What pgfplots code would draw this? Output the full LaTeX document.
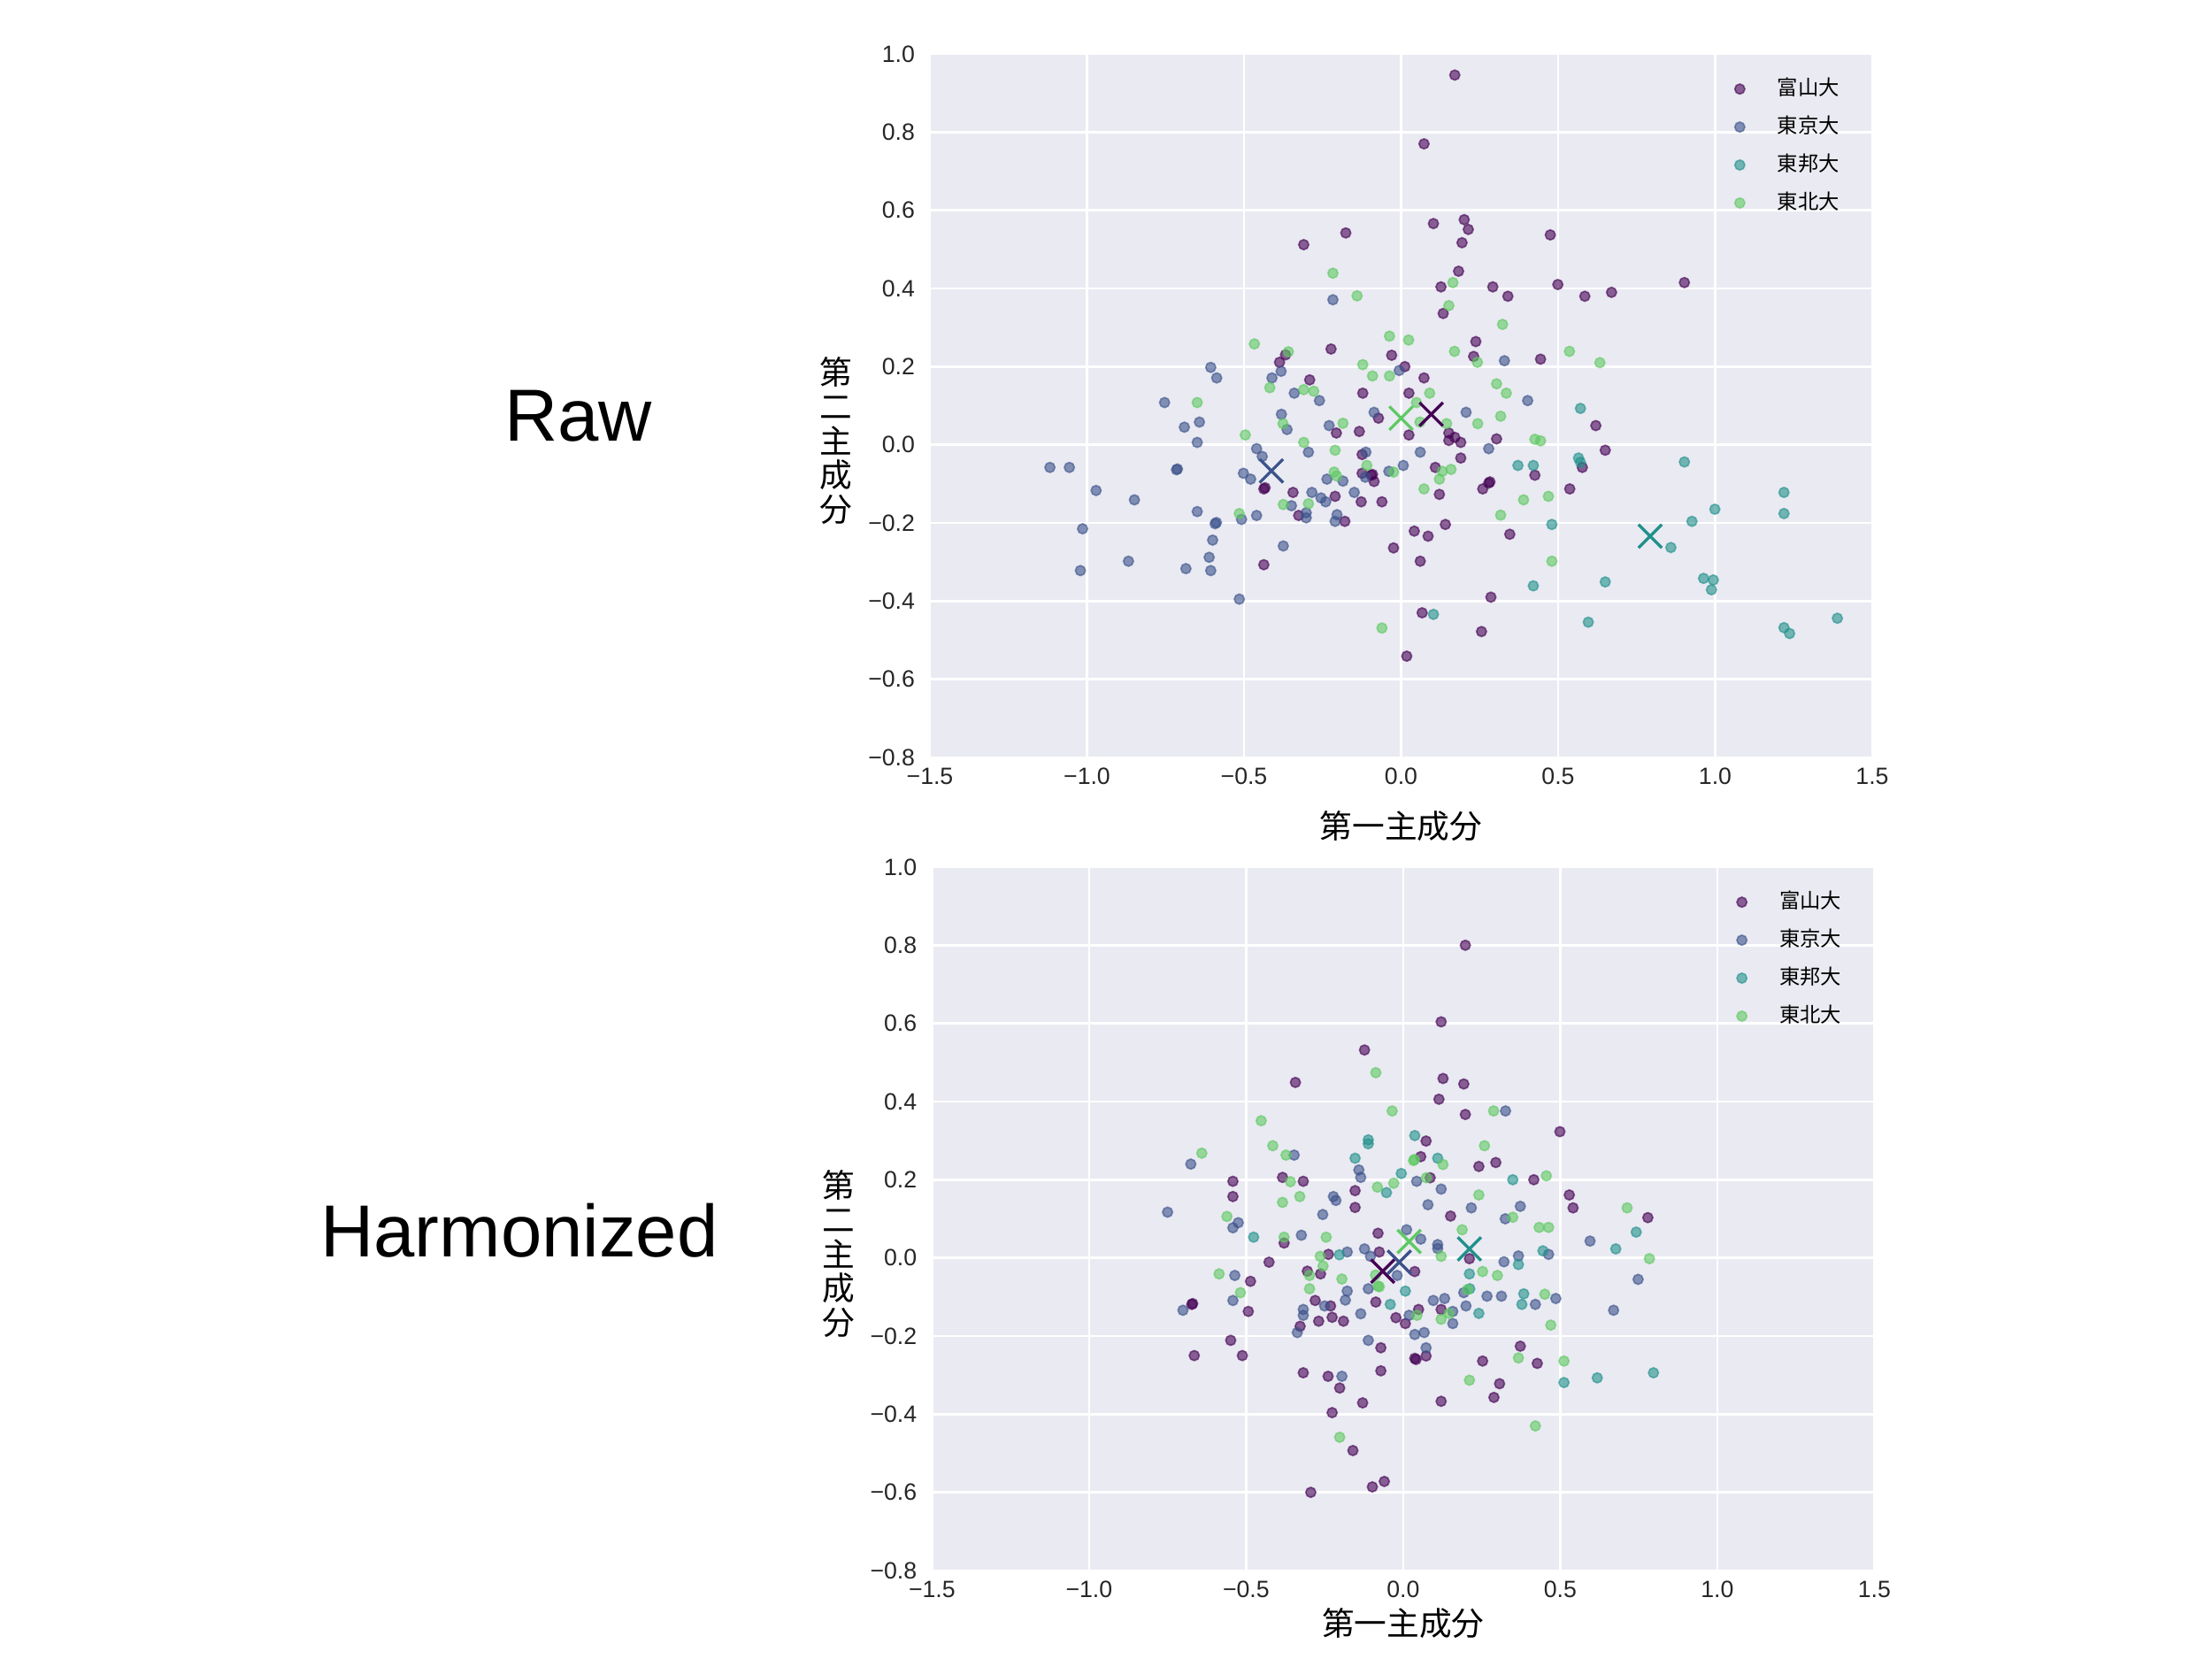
\documentclass[border=0pt]{standalone}
\usepackage{pgfplots}
\pgfplotsset{compat=1.18}
\usepackage{fontspec}
\setmainfont{Liberation Sans}
\newfontfamily\jp{Noto Sans CJK JP}
\definecolor{sbbg}{HTML}{EAEAF2}
\definecolor{tickgray}{HTML}{262626}
\definecolor{cA}{HTML}{440154}
\definecolor{cB}{HTML}{3B528B}
\definecolor{cC}{HTML}{21918C}
\definecolor{cD}{HTML}{5EC962}
\pgfplotsset{
  sbstyle/.style={
    scale only axis, width=319.5pt, height=238.5pt,
    xmin=-1.5, xmax=1.5, ymin=-0.8, ymax=1.0,
    axis background/.style={fill=sbbg},
    axis line style={draw=none},
    grid=major, major grid style={white, line width=0.8pt},
    major tick length=0pt,
    xtick={-1.5,-1,-0.5,0,0.5,1,1.5},
    xticklabels={−1.5,−1.0,−0.5,0.0,0.5,1.0,1.5},
    ytick={-0.8,-0.6,-0.4,-0.2,0,0.2,0.4,0.6,0.8,1.0},
    yticklabels={−0.8,−0.6,−0.4,−0.2,0.0,0.2,0.4,0.6,0.8,1.0},
    ticklabel style={font=\fontsize{8}{9}\selectfont, text=tickgray},
    yticklabel style={xshift=-1.6pt},
    every axis y label/.style={at={(rel axis cs:0,0.45)}, anchor=center, xshift=-31.8pt,
      font=\jp\fontsize{11}{11.6}\selectfont, align=center},
    ylabel={第\\二\\主\\成\\分},
    xlabel={第一主成分},
    legend style={at={(rel axis cs:1,1)}, anchor=north east, xshift=-6pt, yshift=-4pt,
      draw=none, fill=none, font=\jp\fontsize{7}{8}\selectfont, row sep=1.5pt,
      /tikz/every odd column/.append style={column sep=9pt}},
    legend cell align=left,
  },
  pts/.style={only marks, mark=*, mark size=1.7pt, color=#1,
    mark options={fill=#1, opacity=0.6, line width=0.5pt}},
  cen/.style={only marks, mark=x, mark size=5.6pt, color=#1,
    mark options={line width=1.0pt}, forget plot},
}
\begin{document}
\begin{tikzpicture}
\path[use as bounding box] (0,0) rectangle (750pt,562.5pt);
\node[font=\fontsize{25}{30}\selectfont] at (196.1pt,421.5pt) {Raw};
\node[font=\fontsize{25}{30}\selectfont] at (176.1pt,145.2pt) {Harmonized};
% ---------------- Raw ----------------
\begin{axis}[sbstyle, at={(315.3pt,305.7pt)}, anchor=south west,
  every axis x label/.style={at={(rel axis cs:0.5,0)}, anchor=center, yshift=-23.4pt, font=\jp\fontsize{11}{12}\selectfont}]
\addplot[pts=cA] coordinates {
(-0.176,0.542) (-0.31,0.512) (-0.368,0.230) (-0.387,0.211) (-0.223,0.245)
(0.171,0.946) (0.073,0.770) (0.103,0.566) (0.201,0.576) (0.214,0.551) (0.194,0.517)
(0.475,0.537) (0.183,0.444) (0.127,0.404) (0.292,0.404) (0.340,0.380) (0.499,0.410)
(0.585,0.380) (0.670,0.390) (0.134,0.336) (0.238,0.264) (-0.030,0.229) (0.231,0.226)
(0.444,0.219) (0.012,0.200) (0.902,0.415)
(-0.291,0.166) (-0.206,0.030) (-0.437,-0.113) (-0.433,-0.110) (-0.344,-0.122) (-0.210,-0.132)
(-0.326,-0.181) (-0.179,-0.196) (-0.437,-0.307)
(0.073,0.171) (-0.122,0.132) (0.025,0.132) (-0.072,0.068) (0.620,0.049) (0.650,-0.014)
(-0.133,0.034) (0.025,0.025) (0.152,0.030) (0.152,0.011) (0.171,0.019) (0.190,0.006)
(0.304,0.015) (-0.124,-0.025) (0.190,-0.034) (0.577,-0.058) (0.426,-0.078) (0.109,-0.058)
(-0.124,-0.073) (-0.091,-0.076) (-0.095,-0.078) (-0.086,-0.094) (0.279,-0.098) (0.283,-0.095)
(0.260,-0.113) (0.537,-0.113) (0.122,-0.127) (-0.127,-0.146) (-0.061,-0.146) (0.141,-0.204)
(0.042,-0.221) (0.086,-0.234) (0.346,-0.229) (-0.024,-0.264) (0.061,-0.298) (0.286,-0.390)
(0.067,-0.430) (0.256,-0.478) (0.018,-0.541)
};
\addlegendentry{富山大}
\addplot[pts=cB] coordinates {
(-0.217,0.371) (-0.606,0.198) (-0.382,0.188) (0.329,0.215) (-0.006,0.19)
(-0.587,0.171) (-0.411,0.171) (-0.340,0.132) (-0.260,0.113) (-0.753,0.108) (-0.642,0.058)
(-0.690,0.045) (-0.381,0.078) (-0.363,0.039) (-0.229,0.049) (-0.649,0.006) (-0.295,-0.019)
(-0.460,-0.010) (-0.442,-0.030) (-1.118,-0.058) (-1.056,-0.058) (-0.715,-0.064) (-0.712,-0.062)
(-0.502,-0.073) (-0.479,-0.088) (-0.236,-0.088) (-0.185,-0.093) (-0.284,-0.122) (-0.255,-0.136)
(-0.240,-0.146) (-0.149,-0.122) (-0.971,-0.117) (-0.849,-0.141) (-0.349,-0.156) (-0.302,-0.174)
(-0.302,-0.187) (-0.204,-0.179) (-0.210,-0.196) (-0.649,-0.171) (-0.508,-0.191) (-0.460,-0.181)
(-0.592,-0.202) (-0.588,-0.199) (-1.014,-0.215) (-0.600,-0.244) (-0.375,-0.259) (-0.611,-0.288)
(-0.868,-0.298) (-1.021,-0.322) (-0.685,-0.317) (-0.606,-0.322) (-0.515,-0.395)
(0.403,0.113) (-0.086,0.083) (0.207,0.083) (0.279,-0.010) (0.061,-0.019) (-0.112,-0.019)
(0.007,-0.053) (-0.039,-0.068) (-0.114,-0.083)
};
\addlegendentry{東京大}
\addplot[pts=cC] coordinates {
(0.571,0.093) (0.565,-0.034) (0.571,-0.045) (0.372,-0.053) (0.421,-0.053) (0.480,-0.204)
(0.421,-0.361) (0.650,-0.351) (0.103,-0.434) (0.596,-0.454) (0.902,-0.044) (1.219,-0.122)
(1.219,-0.176) (0.999,-0.165) (0.926,-0.196) (0.859,-0.263) (0.963,-0.342) (0.994,-0.346)
(0.988,-0.371) (1.219,-0.468) (1.237,-0.483) (1.389,-0.444)
};
\addlegendentry{東邦大}
\addplot[pts=cD] coordinates {
(-0.217,0.439) (-0.14,0.381) (-0.467,0.258) (-0.359,0.238) (0.165,0.415) (0.152,0.356)
(0.323,0.308) (-0.037,0.278) (0.024,0.268) (0.170,0.239) (0.243,0.211) (0.536,0.239)
(0.633,0.210) (-0.122,0.205)
(-0.418,0.146) (-0.310,0.141) (-0.278,0.137) (-0.649,0.108) (-0.376,0.054) (-0.185,0.055)
(-0.496,0.025) (-0.310,0.006) (-0.210,-0.014) (-0.213,-0.070) (-0.205,-0.080) (-0.375,-0.153)
(-0.295,-0.151) (-0.515,-0.176)
(-0.091,0.176) (-0.037,0.176) (0.091,0.132) (0.304,0.156) (0.335,0.132) (0.049,0.108)
(0.060,0.058) (0.145,0.054) (0.244,0.054) (0.317,0.073) (0.426,0.014) (0.444,0.010)
(-0.109,-0.053) (0.131,-0.068) (0.159,-0.063) (0.122,-0.088) (-0.024,-0.070) (0.073,-0.113)
(0.390,-0.141) (0.469,-0.132) (0.317,-0.180) (0.480,-0.298) (-0.061,-0.469)
};
\addlegendentry{東北大}
\addplot[cen=cA] coordinates {(0.096,0.078)};
\addplot[cen=cB] coordinates {(-0.413,-0.067)};
\addplot[cen=cC] coordinates {(0.793,-0.234)};
\addplot[cen=cD] coordinates {(0.0,0.068)};
\end{axis}
% ---------------- Harmonized ----------------
\begin{axis}[sbstyle, at={(316pt,30pt)}, anchor=south west,
  every axis x label/.style={at={(rel axis cs:0.5,0)}, anchor=center, yshift=-18pt, font=\jp\fontsize{11}{12}\selectfont}]
\addplot[pts=cA] coordinates {
(-0.123,0.532) (-0.343,0.449) (-0.542,0.196) (-0.384,0.206) (-0.318,0.196) (-0.542,0.157)
(-0.153,0.172) (-0.153,0.129)
(0.198,0.800) (0.121,0.604) (0.127,0.459) (0.193,0.445) (0.114,0.406) (0.198,0.367)
(0.499,0.323) (0.073,0.299) (0.056,0.259) (0.241,0.234) (0.295,0.244) (0.086,0.205)
(0.416,0.200) (0.529,0.161) (0.541,0.128) (0.151,0.107) (0.779,0.103)
(-0.379,0.038) (-0.427,-0.011) (-0.238,0.009) (-0.080,0.063) (-0.076,0.015) (-0.305,-0.034)
(-0.263,-0.041) (-0.087,-0.113) (-0.486,-0.060) (-0.673,-0.119) (-0.670,-0.117) (-0.493,-0.137)
(-0.280,-0.109) (-0.231,-0.123) (-0.328,-0.175) (-0.269,-0.162) (-0.226,-0.152) (-0.190,-0.162)
(-0.071,-0.230) (-0.549,-0.211) (-0.665,-0.250) (-0.512,-0.250) (-0.318,-0.294) (-0.239,-0.303)
(-0.202,-0.333) (-0.129,-0.371) (-0.226,-0.396) (-0.071,-0.289) (-0.160,-0.493) (-0.294,-0.600)
(-0.098,-0.586)
(0.211,-0.002) (0.037,-0.035) (0.049,-0.132) (-0.023,-0.153) (0.007,-0.168) (0.121,-0.132)
(0.073,-0.251) (0.037,-0.257) (0.041,-0.260) (0.253,-0.264) (0.373,-0.226) (0.427,-0.270)
(0.307,-0.322) (0.289,-0.357) (0.121,-0.367) (-0.060,-0.572)
};
\addlegendentry{富山大}
\addplot[pts=cB] coordinates {
(-0.347,0.263) (-0.676,0.240) (-0.141,0.225) (-0.135,0.206) (-0.222,0.157) (-0.214,0.147)
(-0.256,0.111) (-0.750,0.117) (-0.525,0.090)
(0.326,0.376) (0.043,0.196) (0.121,0.176) (0.079,0.136) (0.217,0.128) (0.373,0.132) (0.325,0.100)
(-0.542,0.077) (-0.324,0.058) (-0.178,0.015) (-0.123,0.023) (-0.104,0.004) (-0.178,-0.085)
(-0.184,-0.108) (-0.111,-0.079) (-0.536,-0.045) (-0.542,-0.109) (-0.701,-0.134) (-0.250,-0.123)
(-0.318,-0.132) (-0.318,-0.147) (-0.337,-0.191) (-0.135,-0.143) (-0.111,-0.211) (-0.195,-0.303)
(0.595,0.043) (0.011,0.072) (0.056,0.048) (0.110,0.034) (0.110,0.024) (-0.019,-0.045)
(0.321,-0.010) (0.367,0.005) (0.463,0.009) (0.193,-0.089) (0.267,-0.098) (0.313,-0.098)
(0.421,-0.119) (0.486,-0.104) (0.096,-0.109) (0.132,-0.104) (0.019,-0.147) (0.158,-0.137)
(0.158,-0.168) (0.200,-0.123) (0.037,-0.196) (0.067,-0.191) (0.073,-0.230)
(0.748,-0.055) (0.670,-0.134)
};
\addlegendentry{東京大}
\addplot[pts=cC] coordinates {
(-0.111,0.302) (-0.111,0.292) (-0.153,0.255)
(0.037,0.313) (0.110,0.255) (-0.006,0.216) (-0.053,0.167) (0.349,0.200)
(-0.476,0.053) (-0.203,0.008)
(0.007,-0.085) (0.211,-0.041) (0.367,-0.017) (0.445,0.018) (0.212,-0.079) (0.384,-0.092)
(0.378,-0.119) (-0.041,-0.119) (0.241,-0.142) (0.512,-0.319) (0.618,-0.307)
(0.742,0.066) (0.677,0.023) (0.797,-0.294)
};
\addlegendentry{東邦大}
\addplot[pts=cD] coordinates {
(-0.087,0.474) (-0.452,0.351) (-0.415,0.287) (-0.373,0.263) (-0.641,0.268) (-0.359,0.195)
(-0.082,0.181) (-0.329,0.157) (-0.384,0.142) (-0.561,0.106)
(-0.035,0.376) (0.288,0.376) (0.259,0.287) (0.033,0.249) (0.036,0.252) (0.127,0.239)
(-0.030,0.191) (0.074,0.205) (0.456,0.210) (0.241,0.161) (0.349,0.104) (0.713,0.128)
(-0.379,0.053) (-0.245,0.053) (-0.264,0.004) (-0.255,-0.021) (-0.298,-0.045) (-0.195,-0.054)
(-0.298,-0.079) (-0.080,-0.072) (-0.088,-0.044) (-0.586,-0.041) (-0.518,-0.089) (-0.202,-0.459)
(0.188,0.072) (0.433,0.078) (0.463,0.078) (0.121,0.004) (-0.076,-0.074) (0.253,-0.035)
(0.300,-0.045) (0.205,-0.081) (0.451,-0.093) (0.044,-0.147) (0.146,-0.142) (0.121,-0.157)
(0.470,-0.172) (0.367,-0.256) (0.512,-0.264) (0.211,-0.313) (0.421,-0.430) (0.784,-0.002)
};
\addlegendentry{東北大}
\addplot[cen=cA] coordinates {(-0.065,-0.034)};
\addplot[cen=cB] coordinates {(-0.012,-0.011)};
\addplot[cen=cC] coordinates {(0.211,0.023)};
\addplot[cen=cD] coordinates {(0.019,0.042)};
\end{axis}
\end{tikzpicture}
\end{document}
